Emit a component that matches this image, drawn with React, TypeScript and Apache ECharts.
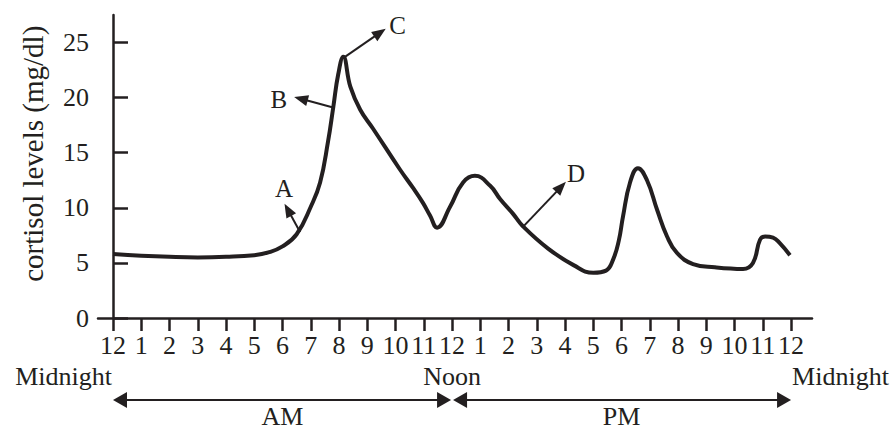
import React, { useEffect, useRef } from "react";
import * as echarts from "echarts";

// ---- data ----
const hourLabels = ["12", "1", "2", "3", "4", "5", "6", "7", "8", "9", "10", "11", "12", "1", "2", "3", "4", "5", "6", "7", "8", "9", "10", "11", "12"];
const yTickValues = [0, 5, 10, 15, 20, 25];

const hours = [
  0, 1, 2, 3, 4, 5, 5.5, 6, 6.5, 7, 7.33, 7.61, 7.8, 7.97, 8.15, 8.4, 8.75, 9.2, 10.15,
  10.62, 10.97, 11.22, 11.47, 11.93, 12.39, 12.81, 13.35, 13.7, 14.16, 14.5, 15.4, 16.3, 17.0, 17.45,
  17.7, 17.9, 18.05, 18.3, 18.58, 18.9, 19.26, 19.61, 19.96, 20.53, 21.3, 22.3, 22.65, 22.9,
  23.08, 23.36, 23.6, 23.96,
];
const cortisol = [
  5.8, 5.65, 5.55, 5.5, 5.55, 5.7, 5.95, 6.5, 7.6, 10.1, 12.3, 16.0, 19.2, 22.1, 23.7, 21.0, 18.9, 17.2, 13.5,
  11.8, 10.45, 9.3, 8.2, 10.1, 12.3, 12.9, 12.0, 10.8, 9.45, 8.35, 6.3, 4.8, 4.1, 4.3,
  5.3, 7.0, 9.2, 12.3, 13.6, 12.5, 9.8, 7.4, 5.9, 4.9, 4.6, 4.45, 5.0, 7.1,
  7.4, 7.3, 6.8, 5.7,
];

const annotationLetters = ["A", "B", "C", "D"];
const annotationFrom = [[6.62, 7.8], [7.79, 19.1], [8.21, 23.7], [14.51, 8.27]];
const annotationTo = [[6.19, 9.82], [6.65, 19.9], [9.45, 25.9], [15.86, 11.9]];

// ---- style ----
const ink = "#231f20";
const serif = "'Liberation Serif', 'Times New Roman', serif";
const letterOffsets = [[1, 0], [-4, 3], [1, -1], [8, -6]];

export default function App() {
  const ref = useRef<HTMLDivElement>(null);

  useEffect(() => {
    if (!ref.current) return;
    const chart = echarts.init(ref.current, null, { renderer: "svg" });
    const hourTicks = hourLabels.map((_, i) => i);

    chart.setOption({
      animation: false,
      backgroundColor: "#ffffff",
      grid: { left: 98, right: 84, top: 15, bottom: 112, outerBoundsMode: "none" },
      xAxis: {
        type: "value",
        min: -0.531,
        max: 24.74,
        axisLine: { show: true, lineStyle: { color: ink, width: 2.5 } },
        axisTick: { show: true, inside: false, length: 13, lineStyle: { color: ink, width: 2.5 }, customValues: hourTicks },
        axisLabel: {
          customValues: hourTicks,
          formatter: (v: number) => hourLabels[Math.round(v)],
          fontFamily: serif,
          fontSize: 26,
          color: ink,
          margin: 14,
        },
        splitLine: { show: false },
      },
      yAxis: {
        type: "value",
        min: 0,
        max: 27.5,
        axisLine: { show: true, lineStyle: { color: ink, width: 2.5 } },
        axisTick: { show: true, inside: true, length: 15, lineStyle: { color: ink, width: 2.5 }, customValues: yTickValues },
        axisLabel: { customValues: yTickValues, fontFamily: serif, fontSize: 26, color: ink, margin: 9 },
        splitLine: { show: false },
      },
      series: [
        {
          type: "line",
          data: hours.map((h, i) => [h, cortisol[i]]),
          showSymbol: false,
          symbol: "none",
          smooth: 0.45,
          clip: false,
          lineStyle: { color: ink, width: 4 },
          markLine: {
            silent: true,
            animation: false,
            symbol: ["none", "triangle"],
            symbolSize: [11, 14],
            lineStyle: { color: ink, width: 2, type: "solid" },
            label: {
              show: true,
              position: "end",
              distance: 10,
              formatter: (p: any) => annotationLetters[p.dataIndex],
              fontFamily: serif,
              fontSize: 25,
              color: ink,
            },
            data: annotationFrom.map((f, i) => [
              { coord: f, label: { offset: letterOffsets[i] } },
              { coord: annotationTo[i] },
            ]),
          },
        },
      ],
    });

    const px = (h: number) => chart.convertToPixel({ xAxisIndex: 0 }, h) as number;
    const py = (v: number) => chart.convertToPixel({ yAxisIndex: 0 }, v) as number;
    const x0 = px(0);
    const x12 = px(12);
    const x24 = px(24);
    const y0 = py(0);
    const ay = y0 + 82;
    const ty = y0 + 58;
    const amY = y0 + 98;
    const head = (tipX: number, dir: number) => ({
      type: "polygon",
      shape: { points: [[tipX, ay], [tipX - dir * 14, ay - 8], [tipX - dir * 14, ay + 8]] },
      style: { fill: ink },
    });
    const textEl = (text: string, x: number, y: number, align: string) => ({
      type: "text",
      x,
      y,
      style: { text, fill: ink, fontFamily: serif, fontSize: 26, align, verticalAlign: "middle" },
    });

    chart.setOption({
      graphic: [
        { type: "line", shape: { x1: x0 + 10, y1: ay, x2: x12 - 11, y2: ay }, style: { stroke: ink, lineWidth: 2 } },
        head(x0, -1),
        head(x12 - 1, 1),
        { type: "line", shape: { x1: x12 + 11, y1: ay, x2: x24 - 10, y2: ay }, style: { stroke: ink, lineWidth: 2 } },
        head(x12 + 1, -1),
        head(x24, 1),
        textEl("Midnight", x0 - 1, ty, "right"),
        textEl("Noon", x12, ty, "center"),
        textEl("Midnight", x24 + 1, ty, "left"),
        textEl("AM", (x0 + x12) / 2, amY, "center"),
        textEl("PM", (x12 + x24) / 2, amY, "center"),
        {
          type: "text",
          x: 33,
          y: py(15) + 1,
          rotation: Math.PI / 2,
          style: { text: "cortisol levels (mg/dl)", fill: ink, fontFamily: serif, fontSize: 29, align: "center", verticalAlign: "middle" },
        },
      ],
    });

    return () => chart.dispose();
  }, []);

  return <div ref={ref} style={{ position: "fixed", left: 0, top: 0, width: 896, height: 430 }} />;
}
